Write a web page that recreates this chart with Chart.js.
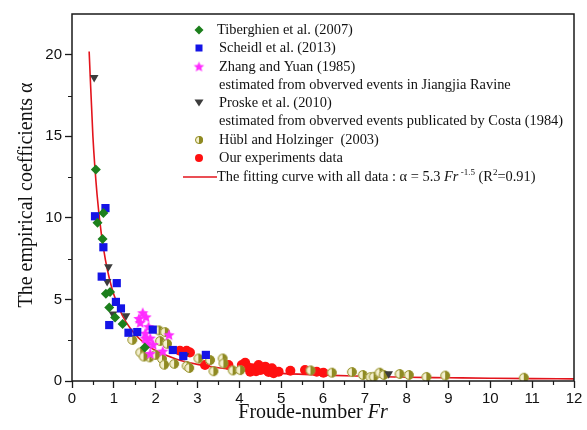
<!DOCTYPE html>
<html lang="en">
<head>
<meta charset="UTF-8">
<title>Empirical coefficient vs Froude number</title>
<script src="https://cdn.jsdelivr.net/npm/chart.js@4.4.1/dist/chart.umd.min.js"></script>
<style>
  html, body { margin: 0; padding: 0; background: #fff; }
  #wrap { width: 587px; height: 430px; position: relative; }
</style>
</head>
<body>
<div id="wrap"><canvas id="chart"></canvas></div>
<script>
// data
const tibX = [0.57, 0.61, 0.73, 0.75, 0.81, 0.91, 0.89, 1.03, 1.21, 1.74];
const tibY = [12.96, 9.7, 8.7, 10.3, 5.35, 5.45, 4.5, 3.9, 3.49, 2.05];

const schX = [0.55, 0.80, 0.75, 0.71, 1.07, 1.05, 1.17, 0.89, 1.35, 1.56, 1.93, 2.41, 2.66, 3.20];
const schY = [10.1, 10.6, 8.2, 6.4, 6.0, 4.85, 4.45, 3.43, 2.96, 3.0, 3.15, 1.9, 1.53, 1.6];

const zhaX = [1.69, 1.60, 1.77, 1.63, 1.83, 1.75, 1.87, 1.80, 1.94, 1.87, 2.32, 2.17, 1.75];
const zhaY = [4.15, 3.8, 3.9, 3.55, 3.3, 2.9, 2.6, 2.3, 2.2, 1.65, 2.8, 1.8, 2.6];

const proX = [0.53, 0.87, 0.84, 0.98, 1.29, 2.70, 7.57];
const proY = [18.6, 7.0, 6.1, 4.1, 4.0, 1.55, 0.45];

const hubX = [1.44, 1.63, 1.85, 2.07, 2.22, 2.10, 2.27, 2.15, 2.20, 2.44, 2.74, 2.80, 3.02, 3.30, 3.38,
              3.60, 3.62, 3.84, 4.02, 5.70, 6.21, 6.69, 6.95, 7.13, 7.21, 7.35, 7.45, 7.83, 8.05, 8.47,
              8.92, 10.80, 1.71, 1.99];
const hubY = [2.52, 1.75, 1.45, 3.1, 3.0, 2.45, 2.28, 1.35, 1.0, 1.05, 0.92, 0.8, 1.38, 1.28, 0.6,
              1.38, 1.08, 0.65, 0.67, 0.65, 0.51, 0.55, 0.37, 0.24, 0.26, 0.51, 0.37, 0.43, 0.37, 0.25,
              0.33, 0.2, 1.5, 1.6];

const ourX = [2.58, 2.74, 2.82, 3.18, 3.74, 4.06, 4.14, 4.20, 4.26, 4.30, 4.40, 4.46, 4.51, 4.62,
              4.64, 4.70, 4.78, 4.82, 4.94, 5.22, 5.57, 5.85, 6.01];
const ourY = [1.85, 1.85, 1.75, 0.98, 0.98, 0.98, 1.12, 0.85, 0.57, 0.78, 0.6, 0.98, 0.67, 0.88,
              0.67, 0.55, 0.78, 0.47, 0.57, 0.63, 0.67, 0.57, 0.51];

// fitted curve, sampled from the plotted red line
const fitX = [0.41, 0.5, 0.6, 0.7, 0.8, 0.9, 1.0, 1.2, 1.4, 1.6, 1.8, 2.0, 2.5, 3.0, 3.5, 4, 5, 6, 7, 8, 9, 10, 11, 12];
const fitY = [20.2, 14.99, 11.4, 9.05, 7.41, 6.21, 5.3, 4.03, 3.2, 2.62, 2.19, 1.87, 1.34, 1.02, 0.81, 0.66,
              0.47, 0.36, 0.29, 0.23, 0.2, 0.17, 0.145, 0.13];

const xTicks = [0, 1, 2, 3, 4, 5, 6, 7, 8, 9, 10, 11, 12];
const yTicks = [0, 5, 10, 15, 20];

const toPts = (xs, ys) => xs.map((x, i) => ({ x: x, y: ys[i] }));

const serif = "'Liberation Serif', 'Times New Roman', serif";
const sans = "'Liberation Sans', Arial, sans-serif";

const colGreen = '#1c7f1c';
const colBlue = '#1414e6';
const colPink = '#ff2cff';
const colGray = '#3c3c3c';
const colRed = '#ff1010';
const colFit = '#e3141c';

// custom markers
function starCanvas(r) {
  const c = document.createElement('canvas');
  c.width = c.height = Math.ceil(r * 2 + 2);
  const g = c.getContext('2d');
  const cx = c.width / 2, cy = c.height / 2;
  g.beginPath();
  for (let i = 0; i < 10; i++) {
    const rr = i % 2 ? r * 0.45 : r;
    const a = -Math.PI / 2 + i * Math.PI / 5;
    g.lineTo(cx + rr * Math.cos(a), cy + rr * Math.sin(a));
  }
  g.closePath();
  g.fillStyle = colPink;
  g.fill();
  return c;
}

function halfCanvas(r) {
  const c = document.createElement('canvas');
  c.width = c.height = Math.ceil(r * 2 + 2);
  const g = c.getContext('2d');
  const cx = c.width / 2, cy = c.height / 2;
  g.beginPath(); g.arc(cx, cy, r, 0, Math.PI * 2);
  g.fillStyle = '#f4f0cf'; g.fill();
  g.beginPath(); g.moveTo(cx, cy - r); g.arc(cx, cy, r, -Math.PI / 2, Math.PI / 2); g.closePath();
  g.fillStyle = '#8f8a22'; g.fill();
  g.beginPath(); g.arc(cx, cy, r - 0.5, 0, Math.PI * 2);
  g.strokeStyle = '#8f8a22'; g.lineWidth = 1; g.stroke();
  return c;
}

const starImg = starCanvas(6);
const halfImg = halfCanvas(4.8);
const starSmall = starCanvas(5.5);
const halfSmall = halfCanvas(4);

// frame, minor ticks, axis titles and the legend
const decor = {
  id: 'decor',
  afterDraw(chart) {
    const { ctx, chartArea: a, scales } = chart;
    const x = scales.x, y = scales.y;
    ctx.save();
    ctx.strokeStyle = '#1a1a1a';
    ctx.lineWidth = 1.5;
    ctx.strokeRect(a.left, a.top, a.right - a.left, a.bottom - a.top);

    ctx.lineWidth = 1.2;
    ctx.beginPath();
    for (let v = 0.5; v < 12; v += 1) {
      const px = Math.round(x.getPixelForValue(v)) + 0.5;
      ctx.moveTo(px, a.bottom); ctx.lineTo(px, a.bottom + 4);
    }
    for (let v = 2.5; v < 22.5; v += 5) {
      const py = Math.round(y.getPixelForValue(v)) + 0.5;
      ctx.moveTo(a.left - 4, py); ctx.lineTo(a.left, py);
    }
    ctx.stroke();

    // axis titles
    ctx.fillStyle = '#111';
    ctx.textBaseline = 'alphabetic';
    const t1 = 'Froude-number ';
    ctx.font = '20px ' + serif;
    const w1 = ctx.measureText(t1).width;
    ctx.font = 'italic 20px ' + serif;
    const w2 = ctx.measureText('Fr').width;
    const sx = 313 - (w1 + w2) / 2;
    ctx.font = '20px ' + serif;
    ctx.fillText(t1, sx, 418);
    ctx.font = 'italic 20px ' + serif;
    ctx.fillText('Fr', sx + w1, 418);

    ctx.save();
    ctx.translate(32, 195);
    ctx.rotate(-Math.PI / 2);
    ctx.font = '20px ' + serif;
    ctx.textAlign = 'center';
    ctx.fillText('The empirical coefficients \u03b1', 0, 0);
    ctx.restore();

    // legend
    const mx = 199, tx = 217;
    const lf = '14.4px ' + serif;
    ctx.textBaseline = 'middle';
    const row = (text, yy, dx) => { ctx.font = lf; ctx.fillText(text, tx + (dx || 0), yy); };

    // diamond
    ctx.fillStyle = colGreen;
    ctx.beginPath();
    ctx.moveTo(mx, 30 - 4.5); ctx.lineTo(mx + 4.5, 30); ctx.lineTo(mx, 30 + 4.5); ctx.lineTo(mx - 4.5, 30);
    ctx.closePath(); ctx.fill();
    // square
    ctx.fillStyle = colBlue;
    ctx.fillRect(mx - 3.5, 48 - 3.5, 7, 7);
    // star
    ctx.drawImage(starSmall, mx - starSmall.width / 2, 67 - starSmall.height / 2);
    // triangle down
    ctx.fillStyle = colGray;
    ctx.beginPath();
    ctx.moveTo(mx - 4.5, 99.5); ctx.lineTo(mx + 4.5, 99.5); ctx.lineTo(mx, 106.5);
    ctx.closePath(); ctx.fill();
    // half circle
    ctx.drawImage(halfSmall, mx - halfSmall.width / 2, 140 - halfSmall.height / 2);
    // red dot
    ctx.fillStyle = colRed;
    ctx.beginPath(); ctx.arc(mx, 158, 4, 0, Math.PI * 2); ctx.fill();
    // fit line
    ctx.strokeStyle = colFit; ctx.lineWidth = 1.5;
    ctx.beginPath(); ctx.moveTo(183, 177); ctx.lineTo(217, 177); ctx.stroke();

    ctx.fillStyle = '#111';
    row('Tiberghien et al. (2007)', 30);
    row('Scheidl et al. (2013)', 48, 2);
    row('Zhang and Yuan (1985)', 67, 2);
    row('estimated from obverved events in Jiangjia Ravine', 85, 2);
    row('Proske et al. (2010)', 103, 2);
    row('estimated from obverved events publicated by Costa (1984)', 121, 2);
    row('H\u00fcbl and Holzinger  (2003)', 140, 2);
    row('Our experiments data', 158, 2);

    // fit label with italic and superscripts
    let cx = tx;
    const part = (text, font, dy) => {
      ctx.font = font;
      ctx.fillText(text, cx, 177 + (dy || 0));
      cx += ctx.measureText(text).width;
    };
    part('The fitting curve with all data : \u03b1 = 5.3 ', lf);
    part('Fr', 'italic 14.4px ' + serif);
    part(' -1.5', '9px ' + serif, -4);
    part(' (R', lf);
    part('2', '9px ' + serif, -4);
    part('=0.91)', lf);
    ctx.restore();
  }
};

const tickGrid = {
  display: true,
  drawOnChartArea: false,
  drawTicks: true,
  tickLength: 7,
  tickColor: '#1a1a1a',
  tickWidth: 1.3
};

new Chart(document.getElementById('chart'), {
  type: 'scatter',
  data: {
    datasets: [
      { label: 'Tiberghien et al. (2007)', data: toPts(tibX, tibY), pointStyle: 'rectRot',
        pointRadius: 5, backgroundColor: colGreen, borderColor: colGreen, borderWidth: 0 },
      { label: 'Scheidl et al. (2013)', data: toPts(schX, schY), pointStyle: 'rect',
        pointRadius: 5.8, backgroundColor: colBlue, borderColor: colBlue, borderWidth: 0 },
      { label: 'Zhang and Yuan (1985)', data: toPts(zhaX, zhaY), pointStyle: starImg,
        pointRadius: 6, backgroundColor: colPink, borderColor: colPink },
      { label: 'Proske et al. (2010)', data: toPts(proX, proY), pointStyle: 'triangle', rotation: 180,
        pointRadius: 5, backgroundColor: colGray, borderColor: colGray, borderWidth: 0 },
      { label: 'H\u00fcbl and Holzinger (2003)', data: toPts(hubX, hubY), pointStyle: halfImg,
        pointRadius: 5 },
      { label: 'Our experiments data', data: toPts(ourX, ourY), pointStyle: 'circle',
        pointRadius: 5, backgroundColor: colRed, borderColor: colRed, borderWidth: 0 },
      { label: 'Fit', type: 'line', data: toPts(fitX, fitY), borderColor: colFit, borderWidth: 1.6,
        pointRadius: 0, fill: false, cubicInterpolationMode: 'monotone', showLine: true }
    ]
  },
  options: {
    responsive: true,
    maintainAspectRatio: false,
    animation: false,
    events: [],
    layout: { padding: { top: 14, right: 13, left: 0, bottom: 0 } },
    plugins: { legend: { display: false }, tooltip: { enabled: false } },
    scales: {
      x: {
        type: 'linear', min: 0, max: 12,
        afterBuildTicks: s => { s.ticks = xTicks.map(v => ({ value: v })); },
        afterFit: s => { s.height = 49; },
        ticks: { color: '#111', font: { family: sans, size: 15 }, padding: 2, maxRotation: 0 },
        grid: tickGrid,
        border: { display: false }
      },
      y: {
        type: 'linear', min: 0, max: 22.5,
        afterBuildTicks: s => { s.ticks = yTicks.map(v => ({ value: v })); },
        afterFit: s => { s.width = 72; },
        ticks: { color: '#111', font: { family: sans, size: 15 }, padding: 3 },
        grid: tickGrid,
        border: { display: false }
      }
    }
  },
  plugins: [decor]
});
</script>
</body>
</html>
